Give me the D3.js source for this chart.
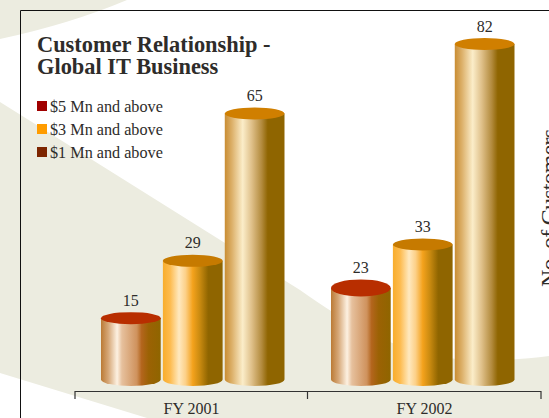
<!DOCTYPE html>
<html><head><meta charset="utf-8">
<script src="https://d3js.org/d3.v7.min.js"></script>
<style>html,body{margin:0;padding:0;background:#fff;overflow:hidden}svg{display:block}text{font-family:"Liberation Serif",serif;fill:#2e2c2a}</style>
</head><body><div id="c"></div>
<script>
const groups = ["FY 2001", "FY 2002"];
const seriesNames = ["$5 Mn and above", "$3 Mn and above", "$1 Mn and above"];
const series5 = [15, 23];
const series3 = [29, 33];
const series1 = [65, 82];
const legendColors = ["#a00000", "#ff9c00", "#7d2500"];
const topColors = ["#b82e00", "#c67a00", "#d07f00"];
const gradients = [
 [[0,"#bb7a35"],[.12,"#d5a676"],[.27,"#fdf1e2"],[.35,"#e6c09d"],[.6,"#cf925d"],[.68,"#b3651d"],[.8,"#9b6204"],[1,"#8f6500"]],
 [[0,"#f8ad2c"],[.12,"#fdbb4e"],[.27,"#ffe9bf"],[.38,"#fcd088"],[.5,"#f4a21c"],[.62,"#c98a10"],[.76,"#8f6500"],[1,"#8f6500"]],
 [[0,"#c98d33"],[.12,"#dcb069"],[.3,"#fbedc9"],[.45,"#dfc08a"],[.62,"#b28a3c"],[.72,"#8f6500"],[1,"#8f6500"]]
];
const W=549,H=418;
const svg=d3.select("#c").append("svg").attr("width",W).attr("height",H);
const defs=svg.append("defs");
gradients.forEach((g,i)=>{
 const lg=defs.append("linearGradient").attr("id","g"+i).attr("x1",0).attr("x2",1).attr("y1",0).attr("y2",0);
 g.forEach(s=>lg.append("stop").attr("offset",s[0]).attr("stop-color",s[1]));
});
// background swooshes
const bg="#ecece0";
svg.append("path").attr("fill",bg).attr("d","M0,0L127,0Q70,24 0,39Z");
svg.append("path").attr("fill",bg).attr("d","M0,102L300,290C345,322 400,357 470,360C500,361 525,359 549,356L549,418L147,418L0,373Z");
// frame
svg.append("path").attr("fill","none").attr("stroke","#111").attr("stroke-width",1).attr("d","M20.5,418V10.5H549");
// scales
const y=d3.scaleLinear().domain([0,82]).range([379.5,44]);
const x0=d3.scaleBand().domain(groups).range([75,541]).padding(0);
const x1=d3.scaleBand().domain(d3.range(3)).range([26,209.5]).paddingInner(0.035).paddingOuter(0);
const g=svg.append("g");
const bars=[];
groups.forEach((gr,gi)=>{[series5,series3,series1].forEach((s,si)=>bars.push({gr,gi,si,v:s[gi]}))});
const ry=d=>(d.gi===1&&d.si===0)?8.5:6;
const rb=6.5;
bars.forEach(d=>{
 const bx=x0(d.gr)+x1(d.si)+(d.gi?-3:0), w=x1.bandwidth();
 const top=y(d.v)-6, r=ry(d), cy=top+r, bot=y(0);
 g.append("path").attr("fill",`url(#g${d.si})`)
  .attr("d",`M${bx},${cy}L${bx},${bot}A${w/2},${rb} 0 0 0 ${bx+w},${bot}L${bx+w},${cy}Z`);
 g.append("ellipse").attr("cx",bx+w/2).attr("cy",cy).attr("rx",w/2).attr("ry",r).attr("fill",topColors[d.si]);
 g.append("text").attr("x",bx+w/2).attr("y",top-6.5).attr("text-anchor","middle").attr("font-size",16).text(d.v);
});
// axis
const axis=d3.axisBottom(x0).tickSize(0).tickPadding(10);
const ag=svg.append("g").attr("transform","translate(0,391.5)");
ag.append("path").attr("fill","none").attr("stroke","#333").attr("stroke-width",1.2).attr("d","M75,7.5V0H307.5V7.5M307.5,0H541V7.5");
ag.call(axis).call(s=>s.select(".domain").remove());
ag.selectAll("text").attr("font-size",16).attr("font-family","Liberation Serif").attr("fill","#2e2c2a").attr("y",11);
// title
const t=svg.append("text").attr("font-size",22.4).attr("font-weight","bold");
t.append("tspan").attr("x",37).attr("y",52).text("Customer Relationship -");
t.append("tspan").attr("x",37).attr("y",74).text("Global IT Business");
// legend
seriesNames.forEach((n,i)=>{
 const ly=101+i*23;
 svg.append("rect").attr("x",37).attr("y",ly).attr("width",10).attr("height",10).attr("fill",legendColors[i]);
 svg.append("text").attr("x",50).attr("y",ly+11).attr("font-size",16.2).text(n);
});
svg.append("text").attr("transform","translate(557,287) rotate(-90)").attr("font-size",24).attr("textLength",158).text("No. of Customers");
</script></body></html>
